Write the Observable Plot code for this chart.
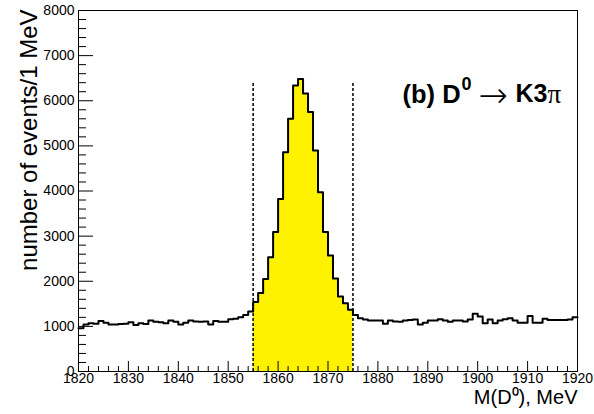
<!DOCTYPE html>
<html><head><meta charset="utf-8">
<script src="https://cdn.jsdelivr.net/npm/d3@7"></script>
<script src="https://cdn.jsdelivr.net/npm/@observablehq/plot@0.6"></script>
<style>body{margin:0;background:#fff}</style>
</head><body><div id="chart"></div>
<script>
// Histogram: one count per 1 MeV bin, bins start at 1820
const binStart = 1820;
const counts = [
  960,1040,1070,1060,1120,1080,1040,1040,1050,1060,
  1090,1030,1070,1050,1130,1100,1090,1070,1130,1100,
  1040,1080,1130,1110,1100,1110,1040,1120,1100,1100,
  1160,1170,1200,1250,1330,1540,1740,2050,2530,3090,
  3820,4860,5600,6340,6480,6160,5750,4900,3970,3090,
  2570,2060,1660,1510,1370,1250,1180,1150,1130,1130,
  1130,1060,1130,1110,1100,1130,1140,1150,1040,1080,
  1130,1130,1160,1130,1100,1130,1130,1110,1150,1280,
  1220,1070,1150,1070,1130,1160,1180,1130,1080,1080,
  1230,1080,1080,1170,1140,1140,1140,1140,1150,1200
];
const selWindow = [1855, 1875];
const selLineTop = 6400;
const xTickLabels = [1820,1830,1840,1850,1860,1870,1880,1890,1900,1910,1920];
const yTickLabels = [0,1000,2000,3000,4000,5000,6000,7000,8000];
const xDomain = [1820, 1920];
const yDomain = [0, 8000];
const xTitle = "M(D\u2070), MeV";
const yTitle = "number of events/1 MeV";
// panel label pieces: "(b) D", superscript "0", arrow, "K3", "π"
const labelMain = "(b) D";
const labelSup = "0";
const labelArrow = "\u2192";
const labelK3 = "K3";
const labelPi = "\u03c0";

const xMinor = d3.range(1822, 1920, 2).filter(v => v % 10 !== 0);
const yMinor = d3.range(200, 8000, 200).filter(v => v % 1000 !== 0);

const stepPts = counts.map((c, i) => ({x: binStart + i, y: c}));
stepPts.push({x: binStart + counts.length, y: counts[counts.length - 1]});
const fillPts = stepPts.filter(p => p.x >= selWindow[0] && p.x < selWindow[1]);
fillPts.push({x: selWindow[1], y: counts[selWindow[1] - 1 - binStart]});

const W = 594, H = 414, mL = 78, mR = 17, mT = 10, mB = 43;
const pw = W - mL - mR, ph = H - mT - mB;
const font = "'Liberation Sans', Arial, sans-serif";

const chart = Plot.plot({
  width: W, height: H,
  marginLeft: mL, marginRight: mR, marginTop: mT, marginBottom: mB,
  style: {fontFamily: font, fontSize: "14px", color: "#000", background: "#fff"},
  x: {domain: xDomain, ticks: xTickLabels, tickSize: 0, tickPadding: 2, tickFormat: d => String(d), label: null},
  y: {domain: yDomain, ticks: yTickLabels, tickSize: 0, tickPadding: 4, tickFormat: d => String(d), label: null},
  marks: [
    Plot.areaY(fillPts, {x: "x", y: "y", curve: "step-after", fill: "#fff200"}),
    Plot.ruleX(selWindow, {x: d => d, y1: 0, y2: selLineTop, stroke: "#000", strokeWidth: 1.5, strokeDasharray: "3,2"}),
    Plot.line(stepPts, {x: "x", y: "y", curve: "step-after", stroke: "#000", strokeWidth: 2}),
    Plot.ruleX(xTickLabels, {x: d => d, insetTop: ph - 10, stroke: "#000"}),
    Plot.ruleX(xMinor, {x: d => d, insetTop: ph - 5, stroke: "#000"}),
    Plot.ruleY(yTickLabels, {y: d => d, insetRight: pw - 15, stroke: "#000"}),
    Plot.ruleY(yMinor, {y: d => d, insetRight: pw - 8, stroke: "#000"}),
    Plot.frame({stroke: "#000", strokeWidth: 1}),
    Plot.text([yTitle], {text: d => d, frameAnchor: "top-left", rotate: -90, textAnchor: "end", dx: -59, dy: -1, fontSize: 24}),
    Plot.text([xTitle], {text: d => d, frameAnchor: "bottom-right", textAnchor: "end", dy: 32, fontSize: 20}),
    Plot.text([labelMain], {text: d => d, frameAnchor: "top-right", textAnchor: "start", dx: -175, dy: 74, fontSize: 25.5, fontWeight: "bold"}),
    Plot.text([labelSup], {text: d => d, frameAnchor: "top-right", textAnchor: "start", dx: -116, dy: 67, fontSize: 18, fontWeight: "bold"}),
    Plot.text([labelArrow], {text: d => d, frameAnchor: "top-right", textAnchor: "start", dx: -99, dy: 72, fontSize: 35, fontFamily: "'DejaVu Sans'", fontWeight: 200}),
    Plot.text([labelK3], {text: d => d, frameAnchor: "top-right", textAnchor: "start", dx: -62, dy: 74, fontSize: 25, fontWeight: "bold"}),
    Plot.text([labelPi], {text: d => d, frameAnchor: "top-right", textAnchor: "start", dx: -30, dy: 73, fontSize: 27, fontFamily: "'Liberation Serif'", fontWeight: "normal"})
  ]
});
document.getElementById("chart").appendChild(chart);
</script>
</body></html>
